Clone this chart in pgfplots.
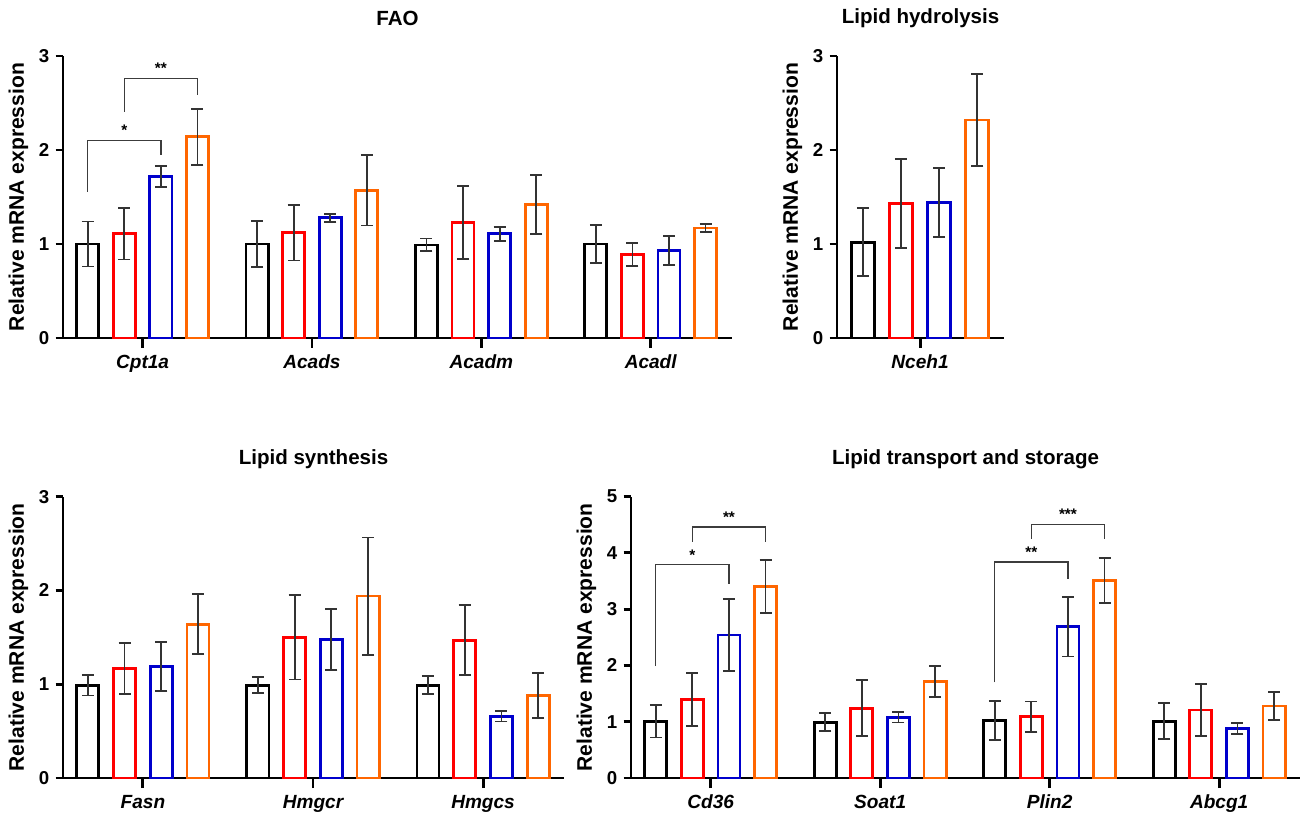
\documentclass[border=0pt]{standalone}
\usepackage{fontspec}
\setmainfont{Liberation Sans}
\usepackage{pgfplots}
\pgfplotsset{compat=1.18}
\definecolor{cred}{RGB}{255,0,0}
\definecolor{cblue}{RGB}{0,0,204}
\definecolor{corange}{RGB}{255,102,0}
\definecolor{ebar}{RGB}{51,51,51}
\definecolor{brkcol}{RGB}{60,60,60}
\tikzset{sigstar/.style={font=\fontsize{11.5}{11.5}\selectfont\bfseries, inner sep=0pt}}
\pgfplotsset{
 panel/.style={
  scale only axis, anchor=south west, clip=false,
  axis x line*=bottom, axis y line*=left,
  axis line style={line width=2.2pt, black},
  xmin=-0.47, ymin=0,
  tick align=outside,
  xtick style={line width=2.2pt, black, /pgfplots/major tick length=7.5pt},
  ytick style={line width=2.2pt, black, /pgfplots/major tick length=5.5pt},
  minor tick num=0,
  /pgf/number format/assume math mode=true,
  yticklabel style={font=\fontsize{14}{14}\selectfont\bfseries, xshift=-2.5pt},
  xticklabel style={font=\fontsize{14.3}{14.3}\selectfont\bfseries\itshape, yshift=-5pt},
  ylabel={Relative mRNA expression},
  every axis y label/.style={at={(axis description cs:0,0.5)}, xshift=-33.5pt, rotate=90, anchor=center, font=\fontsize{15.8}{15.8}\selectfont\bfseries},
  title style={at={(axis description cs:0.5,1)}, anchor=center, yshift=22pt, font=\fontsize{15.4}{15.4}\selectfont\bfseries},
 },
 gbar/.style={ybar, bar width=0.13, bar shift=0pt, fill=white, line width=2.1pt, forget plot,
   error bars/y dir=both, error bars/y explicit,
   error bars/error bar style={line width=1.35pt, ebar},
   error bars/error mark options={rotate=90, line width=1.35pt, ebar, mark size=4.5pt}},
 s1/.style={gbar, draw=black, x filter/.expression={x-0.324}},
 s2/.style={gbar, draw=cred, x filter/.expression={x-0.108}},
 s3/.style={gbar, draw=cblue, x filter/.expression={x+0.108}},
 s4/.style={gbar, draw=corange, x filter/.expression={x+0.324}},
 bracket/.style={draw=brkcol, line width=1pt, mark=none, forget plot},
}
\begin{document}
\begin{tikzpicture}
\useasboundingbox (0,0) rectangle (981pt,615pt);
% FAO
\begin{axis}[panel, at={(47.25pt,361.5pt)}, width=501.75pt, height=211.5pt,
  xmax=3.48, ymax=3, xtick={0,1,2,3}, xticklabels={Cpt1a,Acads,Acadm,Acadl},
  ytick={0,1,2,3}, title={FAO}]
\addplot[s1] coordinates {(0,1.00) +- (0,0.24) (1,1.00) +- (0,0.245) (2,0.99) +- (0,0.068) (3,1.00) +- (0,0.20)};
\addplot[s2] coordinates {(0,1.11) +- (0,0.275) (1,1.12) +- (0,0.295) (2,1.23) +- (0,0.39) (3,0.89) +- (0,0.12)};
\addplot[s3] coordinates {(0,1.72) +- (0,0.11) (1,1.28) +- (0,0.043) (2,1.11) +- (0,0.075) (3,0.93) +- (0,0.155)};
\addplot[s4] coordinates {(0,2.14) +- (0,0.30) (1,1.57) +- (0,0.373) (2,1.42) +- (0,0.31) (3,1.17) +- (0,0.04)};
\addplot[bracket] coordinates {(-0.324,1.555) (-0.324,2.098) (0.108,2.098) (0.108,1.946)};
\addplot[bracket] coordinates {(-0.108,2.407) (-0.108,2.762) (0.324,2.762) (0.324,2.585)};
\node[sigstar] at (axis cs:-0.108,2.21) {*};
\node[sigstar] at (axis cs:0.108,2.87) {**};
\end{axis}
% Lipid hydrolysis
\begin{axis}[panel, at={(627.75pt,361.5pt)}, width=125.25pt, height=211.5pt,
  xmax=0.475, ymax=3, xtick={0}, xticklabels={Nceh1},
  ytick={0,1,2,3}, title={Lipid hydrolysis}]
\addplot[s1] coordinates {(0,1.02) +- (0,0.36)};
\addplot[s2] coordinates {(0,1.43) +- (0,0.47)};
\addplot[s3] coordinates {(0,1.44) +- (0,0.365)};
\addplot[s4] coordinates {(0,2.32) +- (0,0.49)};
\end{axis}
% Lipid synthesis
\begin{axis}[panel, at={(47.25pt,31.5pt)}, width=375.75pt, height=211pt,
  xmax=2.476, ymax=3, xtick={0,1,2}, xticklabels={Fasn,Hmgcr,Hmgcs},
  ytick={0,1,2,3}, title={Lipid synthesis}]
\addplot[s1] coordinates {(0,0.99) +- (0,0.11) (1,0.99) +- (0,0.085) (2,0.99) +- (0,0.095)};
\addplot[s2] coordinates {(0,1.17) +- (0,0.27) (1,1.50) +- (0,0.45) (2,1.47) +- (0,0.375)};
\addplot[s3] coordinates {(0,1.19) +- (0,0.26) (1,1.48) +- (0,0.325) (2,0.66) +- (0,0.057)};
\addplot[s4] coordinates {(0,1.64) +- (0,0.32) (1,1.94) +- (0,0.625) (2,0.88) +- (0,0.24)};
\end{axis}
% Lipid transport and storage
\begin{axis}[panel, at={(473.25pt,31.5pt)}, width=501.75pt, height=211pt,
  xmax=3.477, ymax=5, xtick={0,1,2,3}, xticklabels={Cd36,Soat1,Plin2,Abcg1},
  ytick={0,1,2,3,4,5}, title={Lipid transport and storage}]
\addplot[s1] coordinates {(0,1.01) +- (0,0.29) (1,0.99) +- (0,0.16) (2,1.02) +- (0,0.345) (3,1.01) +- (0,0.32)};
\addplot[s2] coordinates {(0,1.40) +- (0,0.47) (1,1.24) +- (0,0.50) (2,1.09) +- (0,0.27) (3,1.21) +- (0,0.46)};
\addplot[s3] coordinates {(0,2.54) +- (0,0.64) (1,1.08) +- (0,0.095) (2,2.69) +- (0,0.53) (3,0.88) +- (0,0.095)};
\addplot[s4] coordinates {(0,3.40) +- (0,0.47) (1,1.72) +- (0,0.275) (2,3.51) +- (0,0.40) (3,1.28) +- (0,0.255)};
\addplot[bracket] coordinates {(-0.324,1.99) (-0.324,3.79) (0.108,3.79) (0.108,3.45)};
\addplot[bracket] coordinates {(-0.108,4.20) (-0.108,4.46) (0.324,4.46) (0.324,4.20)};
\addplot[bracket] coordinates {(1.676,1.70) (1.676,3.84) (2.108,3.84) (2.108,3.53)};
\addplot[bracket] coordinates {(1.892,4.25) (1.892,4.50) (2.324,4.50) (2.324,4.25)};
\node[sigstar] at (axis cs:-0.108,3.96) {*};
\node[sigstar] at (axis cs:0.108,4.64) {**};
\node[sigstar] at (axis cs:1.892,4.01) {**};
\node[sigstar] at (axis cs:2.108,4.68) {***};
\end{axis}
\end{tikzpicture}
\end{document}
